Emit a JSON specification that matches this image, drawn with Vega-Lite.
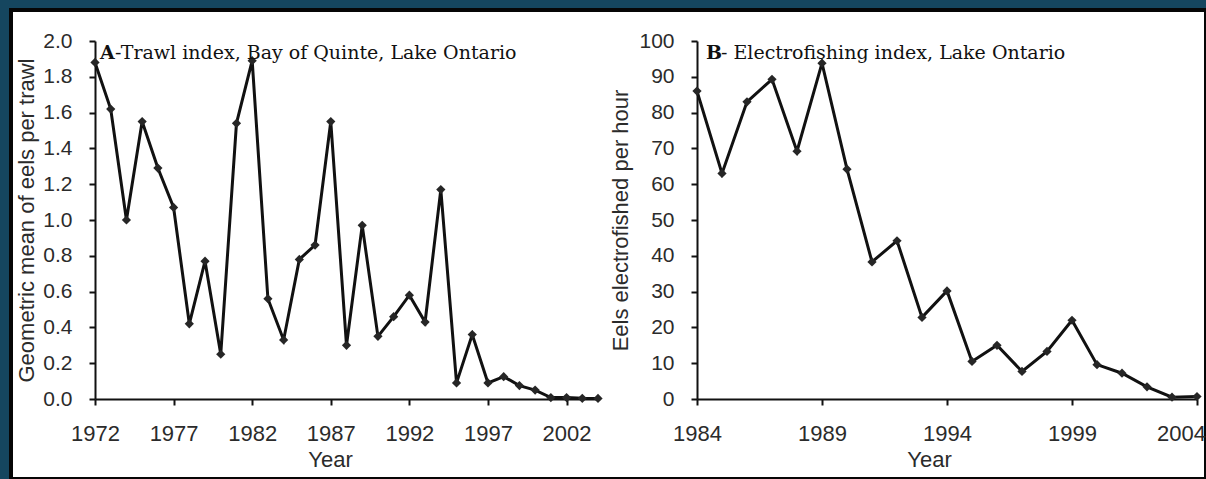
{
  "$schema": "https://vega.github.io/schema/vega-lite/v6.json",
  "width": 1195,
  "height": 469,
  "autosize": {"type": "none"},
  "padding": {"left": 11, "top": 10, "right": 0, "bottom": 0},
  "background": "#15465f",
  "view": {"fill": "#ffffff", "stroke": "#060606", "strokeWidth": 4},
  "config": {
    "axis": {
      "labelFont": "Liberation Sans",
      "titleFont": "Liberation Sans",
      "labelColor": "#2b2b2b",
      "titleColor": "#2b2b2b",
      "titleFontWeight": "normal",
      "domainColor": "#111111",
      "domainWidth": 2,
      "tickColor": "#111111",
      "tickWidth": 2,
      "tickSize": 6,
      "labelFlush": false,
      "labelOverlap": false,
      "grid": false
    },
    "text": {"font": "DejaVu Serif", "fontSize": 19, "color": "#111111", "align": "left", "baseline": "alphabetic"}
  },
  "datasets": {
    "trawl": [
      {"year": 1972, "eels": 1.88}, {"year": 1973, "eels": 1.62}, {"year": 1974, "eels": 1.0},
      {"year": 1975, "eels": 1.55}, {"year": 1976, "eels": 1.29}, {"year": 1977, "eels": 1.07},
      {"year": 1978, "eels": 0.42}, {"year": 1979, "eels": 0.77}, {"year": 1980, "eels": 0.25},
      {"year": 1981, "eels": 1.54}, {"year": 1982, "eels": 1.89}, {"year": 1983, "eels": 0.56},
      {"year": 1984, "eels": 0.33}, {"year": 1985, "eels": 0.78}, {"year": 1986, "eels": 0.86},
      {"year": 1987, "eels": 1.55}, {"year": 1988, "eels": 0.3}, {"year": 1989, "eels": 0.97},
      {"year": 1990, "eels": 0.35}, {"year": 1991, "eels": 0.46}, {"year": 1992, "eels": 0.58},
      {"year": 1993, "eels": 0.43}, {"year": 1994, "eels": 1.17}, {"year": 1995, "eels": 0.09},
      {"year": 1996, "eels": 0.36}, {"year": 1997, "eels": 0.09}, {"year": 1998, "eels": 0.125},
      {"year": 1999, "eels": 0.075}, {"year": 2000, "eels": 0.05}, {"year": 2001, "eels": 0.008},
      {"year": 2002, "eels": 0.008}, {"year": 2003, "eels": 0.004}, {"year": 2004, "eels": 0.003}
    ],
    "electro": [
      {"year": 1984, "eels": 86}, {"year": 1985, "eels": 63}, {"year": 1986, "eels": 83},
      {"year": 1987, "eels": 89.3}, {"year": 1988, "eels": 69.2}, {"year": 1989, "eels": 93.8},
      {"year": 1990, "eels": 64.2}, {"year": 1991, "eels": 38.3}, {"year": 1992, "eels": 44.2},
      {"year": 1993, "eels": 22.8}, {"year": 1994, "eels": 30.2}, {"year": 1995, "eels": 10.5},
      {"year": 1996, "eels": 15}, {"year": 1997, "eels": 7.7}, {"year": 1998, "eels": 13.3},
      {"year": 1999, "eels": 22}, {"year": 2000, "eels": 9.6}, {"year": 2001, "eels": 7.2},
      {"year": 2002, "eels": 3.4}, {"year": 2003, "eels": 0.5}, {"year": 2004, "eels": 0.7}
    ],
    "headings": [
      {"panel": "A", "lead": "A", "rest": "-Trawl index, Bay of Quinte, Lake Ontario"},
      {"panel": "B", "lead": "B", "rest": "- Electrofishing index, Lake Ontario"}
    ]
  },
  "layer": [
    {
      "data": {"name": "trawl"},
      "encoding": {
        "x": {
          "field": "year", "type": "quantitative",
          "scale": {"domain": [1972, 2004], "range": [84, 587], "nice": false, "zero": false},
          "axis": {
            "orient": "bottom", "offset": -80,
            "values": [1972, 1977, 1982, 1987, 1992, 1997, 2002], "format": "d",
            "title": "Year", "labelFontSize": 22, "labelPadding": 18,
            "titleFontSize": 22, "titlePadding": 5, "titleX": 319
          }
        },
        "y": {
          "field": "eels", "type": "quantitative",
          "scale": {"domain": [0, 2], "range": [389, 31], "nice": false},
          "axis": {
            "orient": "left", "offset": -84,
            "values": [0, 0.2, 0.4, 0.6, 0.8, 1.0, 1.2, 1.4, 1.6, 1.8, 2.0], "format": ".1f",
            "title": "Geometric mean of eels per trawl", "labelFontSize": 21, "labelPadding": 17,
            "titleFontSize": 22, "titlePadding": 4
          }
        }
      },
      "layer": [
        {"mark": {"type": "line", "color": "#111111", "strokeWidth": 3}},
        {"mark": {"type": "point", "shape": "diamond", "filled": true, "size": 85, "color": "#262626", "opacity": 1}}
      ]
    },
    {
      "data": {"name": "headings"},
      "transform": [{"filter": "datum.panel === 'A'"}],
      "mark": {"type": "text", "fontWeight": "bold", "dx": 5, "dy": 18},
      "encoding": {
        "x": {"datum": 1972, "type": "quantitative", "scale": {"domain": [1972, 2004], "range": [84, 587], "nice": false, "zero": false}, "axis": null},
        "y": {"datum": 2, "type": "quantitative", "scale": {"domain": [0, 2], "range": [389, 31], "nice": false}, "axis": null},
        "text": {"field": "lead", "type": "nominal"}
      }
    },
    {
      "data": {"name": "headings"},
      "transform": [{"filter": "datum.panel === 'A'"}],
      "mark": {"type": "text", "dx": 20, "dy": 18},
      "encoding": {
        "x": {"datum": 1972, "type": "quantitative", "scale": {"domain": [1972, 2004], "range": [84, 587], "nice": false, "zero": false}, "axis": null},
        "y": {"datum": 2, "type": "quantitative", "scale": {"domain": [0, 2], "range": [389, 31], "nice": false}, "axis": null},
        "text": {"field": "rest", "type": "nominal"}
      }
    },
    {
      "data": {"name": "electro"},
      "encoding": {
        "x": {
          "field": "year", "type": "quantitative",
          "scale": {"domain": [1984, 2004], "range": [686, 1186], "nice": false, "zero": false},
          "axis": {
            "orient": "bottom", "offset": -80,
            "values": [1984, 1989, 1994, 1999, 2004], "format": "d",
            "title": "Year", "labelFontSize": 22, "labelPadding": 18,
            "labelOffset": {"condition": {"test": "datum.value === 2004", "value": -16}, "value": 0},
            "titleFontSize": 22, "titlePadding": 5, "titleX": 918
          }
        },
        "y": {
          "field": "eels", "type": "quantitative",
          "scale": {"domain": [0, 100], "range": [389, 31], "nice": false},
          "axis": {
            "orient": "left", "offset": -686,
            "values": [0, 10, 20, 30, 40, 50, 60, 70, 80, 90, 100], "format": "d",
            "title": "Eels electrofished per hour", "labelFontSize": 21, "labelPadding": 17,
            "titleFontSize": 22, "titlePadding": 6
          }
        }
      },
      "layer": [
        {"mark": {"type": "line", "color": "#111111", "strokeWidth": 3}},
        {"mark": {"type": "point", "shape": "diamond", "filled": true, "size": 85, "color": "#262626", "opacity": 1}}
      ]
    },
    {
      "data": {"name": "headings"},
      "transform": [{"filter": "datum.panel === 'B'"}],
      "mark": {"type": "text", "fontWeight": "bold", "dx": 9, "dy": 18},
      "encoding": {
        "x": {"datum": 1984, "type": "quantitative", "scale": {"domain": [1984, 2004], "range": [686, 1186], "nice": false, "zero": false}, "axis": null},
        "y": {"datum": 100, "type": "quantitative", "scale": {"domain": [0, 100], "range": [389, 31], "nice": false}, "axis": null},
        "text": {"field": "lead", "type": "nominal"}
      }
    },
    {
      "data": {"name": "headings"},
      "transform": [{"filter": "datum.panel === 'B'"}],
      "mark": {"type": "text", "dx": 24, "dy": 18},
      "encoding": {
        "x": {"datum": 1984, "type": "quantitative", "scale": {"domain": [1984, 2004], "range": [686, 1186], "nice": false, "zero": false}, "axis": null},
        "y": {"datum": 100, "type": "quantitative", "scale": {"domain": [0, 100], "range": [389, 31], "nice": false}, "axis": null},
        "text": {"field": "rest", "type": "nominal"}
      }
    }
  ],
  "resolve": {
    "scale": {"x": "independent", "y": "independent"},
    "axis": {"x": "independent", "y": "independent"}
  }
}
